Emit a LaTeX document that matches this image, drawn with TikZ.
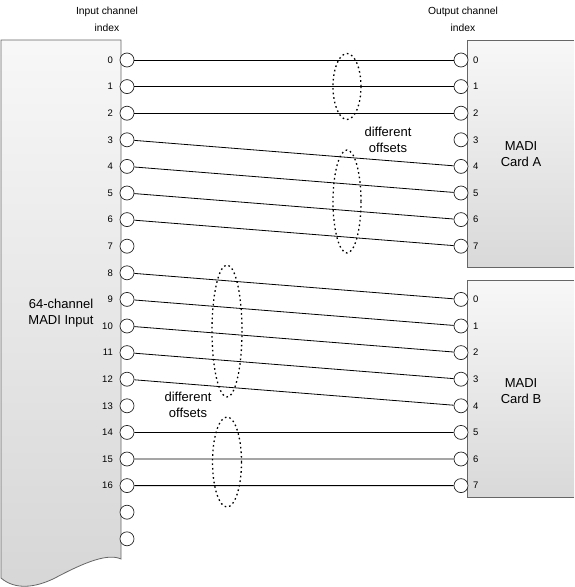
\documentclass[tikz,border=0pt]{standalone}
\usepackage{fontspec}
\setmainfont{Liberation Sans}
\begin{document}
\begin{tikzpicture}[x=1pt,y=-1pt,
  port/.style={circle,draw=black!85,fill=white,minimum size=14pt,inner sep=0pt,line width=0.7pt},
  numlbl/.style={font=\fontsize{9.5}{10}\selectfont,inner sep=0pt},
  wire/.style={draw=black,line width=0.8pt},
  grp/.style={draw=black,line width=1.3pt,dash pattern=on 1.6pt off 3pt},
  bigtxt/.style={font=\fontsize{13}{16}\selectfont,align=center},
  hdr/.style={font=\fontsize{10.3}{17}\selectfont,align=center},
  boxline/.style={draw=black!60,line width=0.8pt}]
\useasboundingbox (0,0) rectangle (574,587);
% left input block with wavy bottom
\shade[top color=black!3,bottom color=black!16]
  (1,40) -- (121,40) -- (121,559) .. controls (108,553) and (85,562) .. (55,578)
  .. controls (35,588) and (15,590) .. (1,578) -- cycle;
\draw[boxline]
  (1,40) -- (121,40) -- (121,559) .. controls (108,553) and (85,562) .. (55,578)
  .. controls (35,588) and (15,590) .. (1,578) -- cycle;
% card boxes
\shade[top color=black!3,bottom color=black!15] (467,40) rectangle (574,267);
\draw[boxline] (467,40) -- (574,40) (467,40) -- (467,267) -- (574,267);
\shade[top color=black!3,bottom color=black!15] (467,280) rectangle (574,497);
\draw[boxline] (467,280) -- (574,280) (467,280) -- (467,497) -- (574,497);
% headers
\node[hdr] (hin) at (107,19) {Input channel\\index};
\node[hdr] (hout) at (463,19) {Output channel\\index};
% block texts
\node[bigtxt] (tin) at (61,313) {64-channel\\MADI Input};
\node[bigtxt] (ta) at (521,154) {MADI\\Card A};
\node[bigtxt] (tb) at (521,391) {MADI\\Card B};
\node[bigtxt] (off1) at (388,140) {different\\offsets};
\node[bigtxt] (off2) at (188,405) {different\\offsets};
% input ports
\foreach \i in {0,...,18} {
  \node[port] (in\i) at (127,{60+26.6*\i}) {};
}
\foreach \i in {0,...,16} {
  \node[numlbl,anchor=east] (inl\i) at (113,{60+26.6*\i}) {\i};
}
% output ports card A
\foreach \i in {0,...,7} {
  \node[port] (a\i) at (461,{60+26.6*\i}) {};
  \node[numlbl,anchor=west] (al\i) at (473,{60+26.6*\i}) {\i};
}
% output ports card B
\foreach \i in {0,...,7} {
  \node[port] (b\i) at (461,{299.4+26.6*\i}) {};
  \node[numlbl,anchor=west] (bl\i) at (473,{299.4+26.6*\i}) {\i};
}
% wires
\draw[wire] (in0) -- (a0);
\draw[wire] (in1) -- (a1);
\draw[wire] (in2) -- (a2);
\draw[wire] (in3) -- (a4);
\draw[wire] (in4) -- (a5);
\draw[wire] (in5) -- (a6);
\draw[wire] (in6) -- (a7);
\draw[wire] (in8) -- (b0);
\draw[wire] (in9) -- (b1);
\draw[wire] (in10) -- (b2);
\draw[wire] (in11) -- (b3);
\draw[wire] (in12) -- (b4);
\draw[wire] (in14) -- (b5);
\draw[wire] (in15) -- (b6);
\draw[wire] (in16) -- (b7);
% dotted group ellipses
\draw[grp] (347,86.5) ellipse [x radius=14,y radius=33];
\draw[grp] (347,201.5) ellipse [x radius=14,y radius=51.5];
\draw[grp] (227,331) ellipse [x radius=15,y radius=66];
\draw[grp] (227,462) ellipse [x radius=14.5,y radius=45];
\end{tikzpicture}
\end{document}
